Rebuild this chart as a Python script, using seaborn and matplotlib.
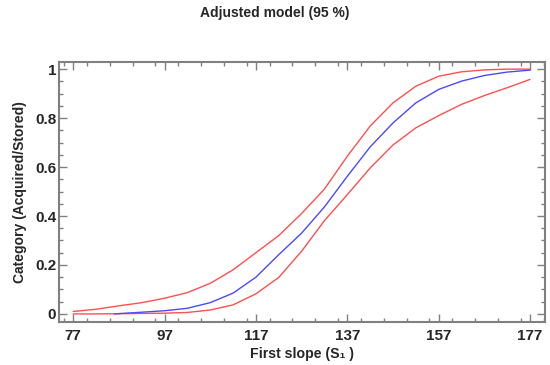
import numpy as np
import pandas as pd
import seaborn as sns
import matplotlib.pyplot as plt
from matplotlib.ticker import MultipleLocator

# values
x_band = [77, 82, 87, 92, 97, 102, 107, 112, 117, 122, 127, 132, 137, 142, 147, 152, 157, 162, 167, 172, 177]
upper = [0.01, 0.019, 0.033, 0.046, 0.064, 0.087, 0.125, 0.18, 0.25, 0.32, 0.41, 0.51, 0.644, 0.767, 0.862, 0.93,
         0.971, 0.989, 0.997, 1.0, 1.0]
lower = [0.0, 0.0, 0.001, 0.002, 0.003, 0.006, 0.016, 0.037, 0.082, 0.149, 0.256, 0.381, 0.487, 0.596, 0.69, 0.76,
         0.81, 0.856, 0.892, 0.924, 0.958]
x_fit = [86, 92, 97, 102, 107, 112, 117, 122, 127, 132, 137, 142, 147, 152, 157, 162, 167, 172, 177]
fit = [0.0, 0.007, 0.013, 0.023, 0.046, 0.085, 0.15, 0.242, 0.33, 0.437, 0.562, 0.682, 0.78, 0.862, 0.917, 0.951,
       0.974, 0.988, 0.996]

sns.set_style("ticks")
plt.rcParams['font.family'] = ['Liberation Sans', 'DejaVu Sans']
plt.rcParams['font.weight'] = 'bold'

fig = plt.figure(figsize=(5.5, 3.65), dpi=100)
ax = fig.add_axes([0.1073, 0.1178, 0.8837, 0.7122])

red = '#ff4f4f'
sns.lineplot(x=x_band, y=upper, ax=ax, color=red, lw=1.0)
sns.lineplot(x=x_band, y=lower, ax=ax, color=red, lw=1.0)
sns.lineplot(x=x_fit, y=fit, ax=ax, color='#4a4aff', lw=1.0)

ax.set_xlim(73.9, 180.3)
ax.set_ylim(-0.033, 1.029)
ax.set_xticks([77, 97, 117, 137, 157, 177])
ax.set_yticks([0, 0.2, 0.4, 0.6, 0.8, 1])
ax.set_yticklabels(['0', '0.2', '0.4', '0.6', '0.8', '1'])
ax.xaxis.set_minor_locator(MultipleLocator(5))
ax.yaxis.set_minor_locator(MultipleLocator(0.05))
ax.tick_params(which='both', direction='in', top=True, right=True, color='#808080',
               labelsize=11)
ax.tick_params(axis='x', pad=5)
ax.tick_params(axis='y', pad=2)
ax.tick_params(which='major', length=6, width=1)
ax.tick_params(which='minor', length=3, width=1)
for lab in ax.get_xticklabels() + ax.get_yticklabels():
    lab.set_fontweight('bold')
for s in ax.spines.values():
    s.set_color('#808080')
    s.set_linewidth(1.5)

ax.set_xlabel('First slope (S\u2081 )', fontsize=10.2, fontweight='bold', labelpad=3)
ax.set_ylabel('Category (Acquired/Stored)', fontsize=10, fontweight='bold', labelpad=6)
fig.text(0.5, 0.965, 'Adjusted model (95 %)', ha='center', va='center', fontsize=10, fontweight='bold')

fig.savefig('out.png', dpi=100)
